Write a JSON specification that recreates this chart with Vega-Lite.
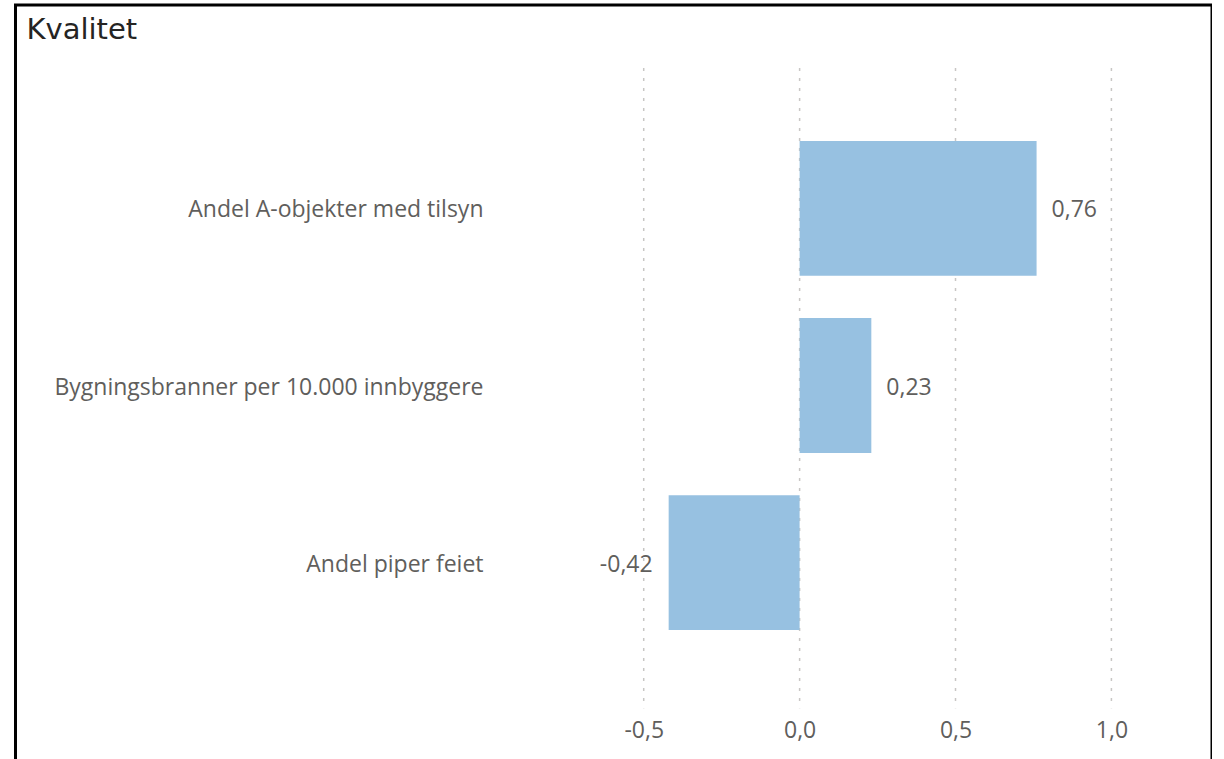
{
  "$schema": "https://vega.github.io/schema/vega-lite/v6.json",
  "autosize": {"type": "none"},
  "padding": {"left": 15.5, "top": 5, "right": 0, "bottom": 0},
  "width": 1196.5,
  "height": 761,
  "background": "white",
  "title": {
    "text": "Kvalitet",
    "anchor": "start",
    "orient": "top",
    "offset": -33,
    "baseline": "alphabetic",
    "dx": 11,
    "dy": 30,
    "font": "DejaVu Sans",
    "fontSize": 29,
    "fontWeight": "normal",
    "color": "#252423"
  },
  "config": {
    "view": {"stroke": "#000000", "strokeWidth": 3},
    "locale": {
      "number": {"decimal": ",", "thousands": ".", "grouping": [3], "currency": ["", " kr"], "minus": "-"}
    }
  },
  "datasets": {
    "bars": [
      {"kategori": "Andel A-objekter med tilsyn", "verdi": 0.76},
      {"kategori": "Bygningsbranner per 10.000 innbyggere", "verdi": 0.23},
      {"kategori": "Andel piper feiet", "verdi": -0.42}
    ],
    "grid": [{"v": -0.5}, {"v": 0}, {"v": 0.5}, {"v": 1}]
  },
  "layer": [
    {
      "data": {"name": "grid"},
      "mark": {"type": "rule", "color": "#C8C6C4", "strokeWidth": 1.5, "strokeDash": [3, 7]},
      "encoding": {
        "x": {
          "field": "v",
          "type": "quantitative",
          "scale": {"domain": [-2.5148, 1.3226], "nice": false, "zero": false},
          "axis": {
            "values": [-0.5, 0, 0.5, 1],
            "format": ".1f",
            "grid": false,
            "ticks": false,
            "domain": false,
            "labelFont": "Open Sans",
            "labelFontSize": 23,
            "labelColor": "#605E5C",
            "labelPadding": 0,
            "offset": -47,
            "title": null
          }
        },
        "y": {"datum": "Andel A-objekter med tilsyn", "type": "nominal", "bandPosition": -0.54},
        "y2": {"datum": "Andel piper feiet", "bandPosition": 1.58}
      }
    },
    {
      "data": {"name": "bars"},
      "mark": {"type": "bar", "color": "#97C1E1"},
      "encoding": {
        "x": {"field": "verdi", "type": "quantitative"},
        "y": {
          "field": "kategori",
          "type": "nominal",
          "scale": {
            "domain": ["Andel A-objekter med tilsyn", "Bygningsbranner per 10.000 innbyggere", "Andel piper feiet"],
            "paddingInner": 0.238,
            "paddingOuter": 0.7675
          },
          "axis": {
            "orient": "left",
            "offset": -475.5,
            "ticks": false,
            "domain": false,
            "grid": false,
            "labelPadding": 8,
            "labelFont": "Open Sans",
            "labelFontSize": 23,
            "labelColor": "#605E5C",
            "labelLimit": 600,
            "labelOffset": 2,
            "title": null
          }
        }
      }
    },
    {
      "data": {"name": "bars"},
      "transform": [{"filter": "datum.verdi >= 0"}],
      "mark": {"type": "text", "align": "left", "baseline": "middle", "dx": 15, "dy": 2, "font": "Open Sans", "fontSize": 23, "color": "#605E5C"},
      "encoding": {
        "x": {"field": "verdi", "type": "quantitative"},
        "y": {"field": "kategori", "type": "nominal"},
        "text": {"field": "verdi", "type": "quantitative", "format": ".2f"}
      }
    },
    {
      "data": {"name": "bars"},
      "transform": [{"filter": "datum.verdi < 0"}],
      "mark": {"type": "text", "align": "right", "baseline": "middle", "dx": -16, "dy": 2, "font": "Open Sans", "fontSize": 23, "color": "#605E5C"},
      "encoding": {
        "x": {"field": "verdi", "type": "quantitative"},
        "y": {"field": "kategori", "type": "nominal"},
        "text": {"field": "verdi", "type": "quantitative", "format": ".2f"}
      }
    }
  ]
}
